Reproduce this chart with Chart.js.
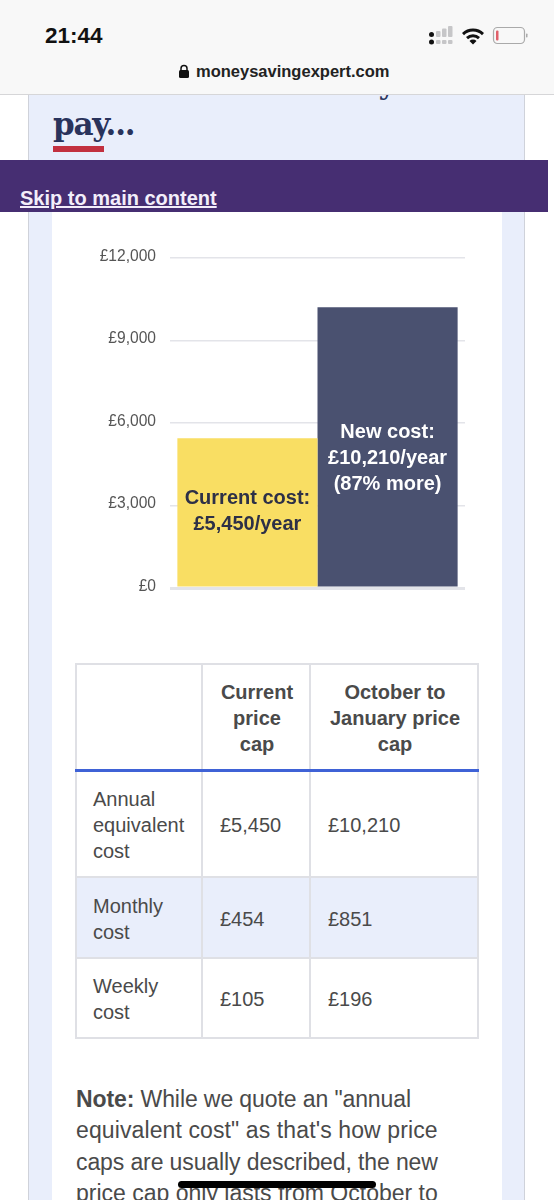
<!DOCTYPE html>
<html><head><meta charset="utf-8">
<style>
html,body{margin:0;padding:0;width:554px;height:1200px;overflow:hidden;background:#fff;font-family:"Liberation Sans",sans-serif;color:#444}
.abs{position:absolute}
#top{left:0;top:0;width:554px;height:94px;background:#f8f8f8;border-bottom:1px solid #d6d6d8;z-index:5}
#card{left:28px;top:90px;width:497px;height:1110px;background:#e9eefb;border-left:1px solid #cfd2da;border-right:1px solid #cfd2da;box-sizing:border-box}
#inner{left:52px;top:212px;width:450px;height:988px;background:#fff}
#banner{left:0;top:160px;width:548px;height:52px;background:#462e72;z-index:2}
#skip{left:20px;top:187px;color:#f3eefa;font:bold 20px "Liberation Sans";text-decoration:underline;z-index:3}
#title{left:53px;top:68px;font:bold 28px "DejaVu Serif";color:#29335c;white-space:nowrap;letter-spacing:-.9px}
#pay{left:53px;top:106px;font:bold 31px "DejaVu Serif";color:#29335c;letter-spacing:-1.2px}
#red{left:53px;top:146px;width:51px;height:6px;background:#c2303f}
#time{left:45px;top:23px;font:bold 22.5px "Liberation Sans";color:#111;z-index:6}
#url{left:196px;top:62px;font:bold 16.5px "Liberation Sans";color:#222;z-index:6}
canvas{position:absolute;left:80px;top:240px;z-index:3}
table{position:absolute;left:75px;top:663px;width:402px;border-collapse:collapse;table-layout:fixed;font:20px/26px "Liberation Sans";color:#4a4a4a;z-index:3}
th,td{border:2px solid #dfe0e5;padding:2px 0 0 17px;text-align:left;vertical-align:middle}
td:first-child{padding-left:16px}
th{text-align:center;font-weight:bold;padding:2px 0 0 2px;border-bottom:3px solid #3f62d6}
#note{left:76px;top:1084px;width:420px;font:23px/31.4px "Liberation Sans";color:#4a4a4a;z-index:3;white-space:nowrap}
#home{left:178px;top:1181px;width:198px;height:7px;border-radius:4px;background:#000;z-index:6}
</style></head><body>
<div class="abs" id="card"></div>
<div class="abs" id="title">Our LOWER LIMIT is you'll</div>
<div class="abs" id="pay">pay...</div>
<div class="abs" id="red"></div>
<div class="abs" id="inner"></div>
<div class="abs" id="banner"></div>
<div class="abs" id="skip">Skip to main content</div>
<div class="abs" id="top"></div>
<div class="abs" id="time">21:44</div>
<svg class="abs" style="left:425px;top:24px;z-index:6" width="105" height="24" viewBox="0 0 105 24">
<g fill="#111"><rect x="4" y="8" width="5" height="5" rx="2.5"/><rect x="4" y="15.500" width="5" height="5" rx="2.5"/></g>
<g fill="#c6c6c8"><rect x="11" y="7" width="4.500" height="6" rx="1"/><rect x="11" y="16" width="4.500" height="4" rx="1"/><rect x="17" y="4.500" width="4.500" height="8.500" rx="1"/><rect x="17" y="16" width="4.500" height="4" rx="1"/><rect x="23" y="2" width="4.500" height="11" rx="1"/><rect x="23" y="16" width="4.500" height="4" rx="1"/></g>
<path d="M37 9a16 16 0 0 1 22 0l-2 2.200a13 13 0 0 0-18 0zM41 13a10.500 10.500 0 0 1 14 0l-2 2.200a7.500 7.500 0 0 0-10 0zM44.500 17a5 5 0 0 1 7 0l-3.500 3.500z" fill="#111"/>
<rect x="68.500" y="3.500" width="31" height="16" rx="4" fill="none" stroke="#aaa" stroke-width="1.2"/>
<rect x="71" y="6.500" width="2.500" height="10" rx="1" fill="#e0606a"/>
<rect x="101" y="9.500" width="1.500" height="4" rx="0.700" fill="#aaa"/>
</svg>
<svg class="abs" style="left:178px;top:64px;z-index:6" width="12" height="16" viewBox="0 0 12 16"><rect x="1" y="6" width="10" height="8" rx="1.5" fill="#111"/><path d="M3 7V4.500a3 3 0 0 1 6 0V7" fill="none" stroke="#111" stroke-width="1.5"/></svg>
<div class="abs" id="url">moneysavingexpert.com</div>
<canvas id="c" width="385" height="352"></canvas>
<table>
<colgroup><col style="width:126px"><col style="width:108px"><col style="width:168px"></colgroup>
<tr style="height:106px"><th></th><th>Current<br>price<br>cap</th><th>October to<br>January price<br>cap</th></tr>
<tr style="height:107px"><td>Annual<br>equivalent<br>cost</td><td>£5,450</td><td>£10,210</td></tr>
<tr style="height:81px;background:#e9eefb"><td>Monthly<br>cost</td><td>£454</td><td>£851</td></tr>
<tr style="height:80px"><td>Weekly<br>cost</td><td>£105</td><td>£196</td></tr>
</table>
<div class="abs" id="note"><span style="letter-spacing:-.1px"><b>Note:</b> While we quote an "annual</span><br><span style="letter-spacing:.11px">equivalent cost" as that's how price</span><br><span style="letter-spacing:-.11px">caps are usually described, the new</span><br>price cap only lasts from October to</div>
<div class="abs" id="home"></div>
<script src="https://cdn.jsdelivr.net/npm/chart.js@4"></script>
<script>
const categories = ["Price cap"];
const currentCost = [5450];
const newCost = [10210];
const yTicks = [0, 3000, 6000, 9000, 12000];
const currentLabel = ["Current cost:", "£5,450/year"];
const newLabel = ["New cost:", "£10,210/year", "(87% more)"];

const barText = {
  id: "barText",
  afterDatasetsDraw(chart) {
    const ctx = chart.ctx;
    const items = [
      {i: 0, lines: currentLabel, color: "#2d3047", shift: -1},
      {i: 1, lines: newLabel, color: "#ffffff", shift: 12}
    ];
    ctx.save();
    ctx.font = 'bold 20px "Liberation Sans"';
    ctx.textAlign = "center";
    ctx.textBaseline = "middle";
    items.forEach(it => {
      const bar = chart.getDatasetMeta(it.i).data[0];
      const mid = (bar.y + bar.base) / 2 + it.shift;
      ctx.fillStyle = it.color;
      it.lines.forEach((t, k) => ctx.fillText(t, bar.x, mid + (k - (it.lines.length - 1) / 2) * 26));
    });
    ctx.restore();
  }
};

new Chart(document.getElementById("c"), {
  type: "bar",
  data: {
    labels: categories,
    datasets: [
      {label: "Current cost", data: currentCost, backgroundColor: "#f9de63"},
      {label: "New cost", data: newCost, backgroundColor: "#4a5170"}
    ]
  },
  options: {
    responsive: false,
    animation: false,
    layout: {padding: {top: 18, bottom: 4, left: 0, right: 0}},
    plugins: {legend: {display: false}, tooltip: {enabled: false}},
    datasets: {bar: {categoryPercentage: 0.95, barPercentage: 1}},
    scales: {
      x: {display: false},
      y: {
        min: yTicks[0],
        max: yTicks[yTicks.length - 1],
        afterFit(s) { s.width = 90; s.paddingTop = 0; s.paddingBottom = 0; },
        afterBuildTicks(s) { s.ticks = yTicks.map(v => ({value: v})); },
        border: {display: false},
        grid: {
          drawTicks: false,
          color: "#e3e4e9",
          lineWidth: c => c.tick && c.tick.value === 0 ? 3 : 1.5
        },
        ticks: {
          padding: 14,
          labelOffset: -1.5,
          color: "#555555",
          font: {family: "Liberation Sans", size: 15.6},
          callback: v => "£" + Number(v).toLocaleString("en-GB")
        }
      }
    }
  },
  plugins: [barText]
});
</script>
</body></html>
